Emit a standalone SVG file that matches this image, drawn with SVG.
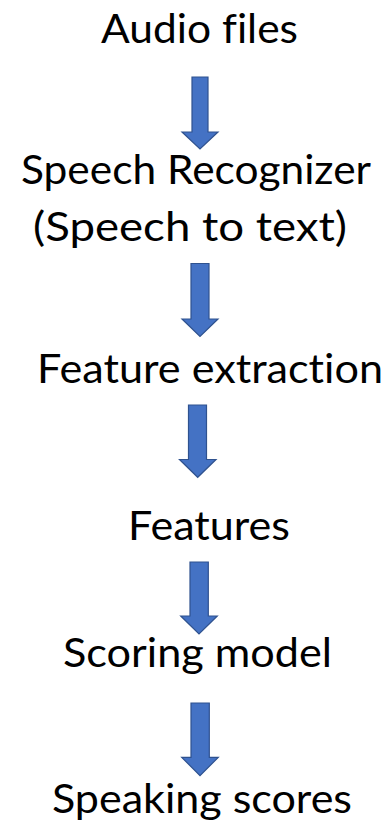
<svg xmlns="http://www.w3.org/2000/svg" width="389" height="825" viewBox="0 0 389 825">
<style>
text { font-family: Lato, "Open Sans", sans-serif; font-size: 41px; fill: #000; font-variant-ligatures: none; font-feature-settings: "liga" 0, "dlig" 0; }
.arrow { fill: #4472C4; stroke: #2F528F; stroke-width: 1.2; }
</style>
<rect width="389" height="825" fill="#fff"/>
<g id="n1"><text x="101" y="43" textLength="197" lengthAdjust="spacingAndGlyphs">Audio files</text></g>
<g id="n2"><text x="21" y="184" textLength="350" lengthAdjust="spacingAndGlyphs">Speech Recognizer</text>
<text x="33" y="241" textLength="314" lengthAdjust="spacingAndGlyphs">(Speech to text)</text></g>
<g id="n3"><text x="37" y="383" textLength="346" lengthAdjust="spacingAndGlyphs">Feature extraction</text></g>
<g id="n4"><text x="128" y="540" textLength="162" lengthAdjust="spacingAndGlyphs">Features</text></g>
<g id="n5"><text x="63" y="667" textLength="269" lengthAdjust="spacingAndGlyphs">Scoring model</text></g>
<g id="n6"><text x="52" y="813" textLength="300" lengthAdjust="spacingAndGlyphs">Speaking scores</text></g>
<g id="connectors">
<path class="arrow" d="M192,77 H208 V132 H218 L200,149 L182,132 H192 Z"/>
<path class="arrow" d="M191,263.5 H209 V319 H218 L200,336.5 L182,319 H191 Z"/>
<path class="arrow" d="M188.5,405 H206.5 V459.5 H216 L197.7,477.3 L179.5,459.5 H188.5 Z"/>
<path class="arrow" d="M190,562 H208.3 V616 H217.3 L199,634 L180.7,616 H190 Z"/>
<path class="arrow" d="M191,703 H209.3 V757.3 H218.3 L200,775.7 L181.7,757.3 H191 Z"/>
</g>
</svg>
